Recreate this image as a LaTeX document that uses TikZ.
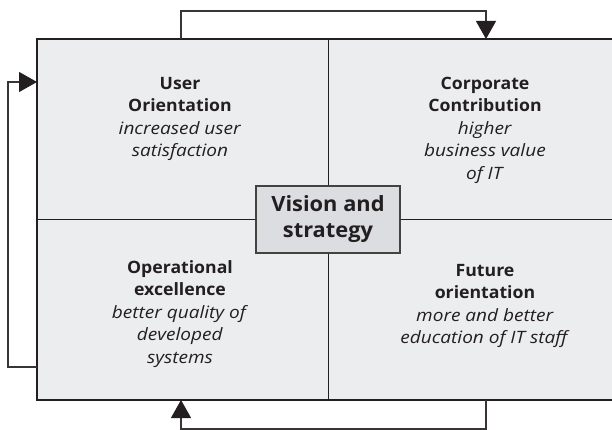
\documentclass[tikz,border=0pt]{standalone}
\usepackage{fontspec}
\setmainfont{Open Sans}[ItalicFeatures={FakeStretch=1.12}, BoldFeatures={FakeStretch=1.04}]
\usetikzlibrary{arrows.meta}
\definecolor{ink}{HTML}{231F20}
\definecolor{panel}{HTML}{ECEDEF}
\definecolor{core}{HTML}{DCDDE1}
\begin{document}
\begin{tikzpicture}[x=1pt,y=-1pt,
  frame/.style={draw=ink, line width=2pt, fill=panel},
  divider/.style={draw=ink, line width=0.9pt},
  loopline/.style={draw=ink!90, line width=1.2pt},
  tip/.style={-{Triangle[length=18pt,width=20pt,fill=ink,color=ink]}},
  quad/.style={align=center, font=\fontsize{17}{22.5}\selectfont, text=ink, inner sep=0pt},
  corebox/.style={draw=ink!85, line width=1.5pt, fill=core, minimum width=144pt, minimum height=67pt, align=center, inner sep=0pt, text=ink, font=\fontsize{21}{26}\selectfont\bfseries}]
\useasboundingbox (0,0) rectangle (612,430);
% frame
\coordinate (ftl) at (37,39);
\coordinate (fbr) at (625,400);
\path[frame] (ftl) rectangle (fbr);
% dividers
\coordinate (dtop) at (328,39);
\coordinate (dbot) at (328,400);
\coordinate (dleft) at (37,219);
\coordinate (dright) at (625,219);
\draw[divider] (dtop) -- (dbot);
\draw[divider] (dleft) -- (dright);
% centre
\node[corebox] (core) at (328,219.5) {Vision and\\strategy};
% quadrants
\node[quad] (ul) at (180,119) {\textbf{User}\\\textbf{Orientation}\\\textit{increased user}\\\textit{satisfaction}};
\node[quad] (ur) at (485,130) {\textbf{Corporate}\\\textbf{Contribution}\\\textit{higher}\\\textit{business value}\\\textit{of IT}};
\node[quad] (ll) at (180,314) {\textbf{Operational}\\\textbf{excellence}\\\textit{better quality of}\\\textit{developed}\\\textit{systems}};
\node[quad] (lr) at (485,306) {\textbf{Future}\\\textbf{orientation}\\\textit{more and better}\\\textit{education of IT staff}};
% loop coordinates
\coordinate (topA) at (181,39);
\coordinate (topB) at (486,39);
\coordinate (topY) at (0,11);
\coordinate (botA) at (486,400);
\coordinate (botB) at (181,400);
\coordinate (botY) at (0,429);
\coordinate (leftA) at (37,367);
\coordinate (leftB) at (37,82);
\coordinate (leftX) at (8,0);
% loops
\draw[loopline,tip] (topA) -- (topA |- topY) -| (topB);
\draw[loopline,tip] (botA) -- (botA |- botY) -| (botB);
\draw[loopline,tip] (leftA) -- (leftA -| leftX) |- (leftB);
\end{tikzpicture}
\end{document}
